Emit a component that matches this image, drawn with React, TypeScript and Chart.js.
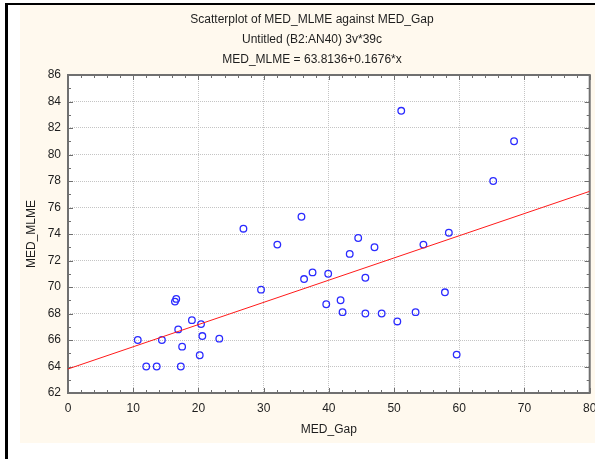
import { useEffect, useRef } from "react";
import { Chart, registerables } from "chart.js";

Chart.register(...registerables);

const TITLE_LINES = [
  "Scatterplot of MED_MLME against MED_Gap",
  "Untitled (B2:AN40) 3v*39c",
  "MED_MLME = 63.8136+0.1676*x",
];
const X_LABEL = "MED_Gap";
const Y_LABEL = "MED_MLME";

const MED_GAP = [
  26.9, 32.1, 36.2, 37.5, 39.9, 39.6, 29.6, 16.6, 16.4, 19.0,
  16.9, 20.4, 10.7, 14.4, 17.5, 20.6, 23.2, 20.2, 12.0, 13.6,
  17.3, 44.5, 47.0, 43.2, 54.5, 58.4, 45.6, 41.8, 42.1, 45.6,
  48.1, 50.5, 53.3, 57.8, 59.6, 51.1, 68.4, 65.2, 35.8,
];
const MED_MLME = [
  74.4, 73.2, 70.6, 71.1, 71.0, 68.7, 69.8, 69.1, 68.9, 67.5,
  66.8, 67.2, 66.0, 66.0, 65.5, 66.3, 66.1, 64.85, 64.0, 64.0,
  64.0, 73.7, 73.0, 72.5, 73.2, 74.1, 70.7, 69.0, 68.1, 68.0,
  68.0, 67.4, 68.1, 69.6, 64.9, 83.3, 81.0, 78.0, 75.3,
];

const INTERCEPT = 63.8136;
const SLOPE = 0.1676;

const X_MIN = 0;
const X_MAX = 80;
const X_STEP = 10;
const X_MINOR = 2;
const Y_MIN = 62;
const Y_MAX = 86;
const Y_STEP = 2;
const Y_MINOR = 1;

const FONT = "'Liberation Sans', Arial, sans-serif";
const TEXT = "#1e1e1e";

const decor = {
  id: "decor",
  beforeDraw(chart: any) {
    const { ctx, chartArea: a } = chart;
    ctx.save();
    ctx.fillStyle = "#ffffff";
    ctx.fillRect(a.left, a.top, a.right - a.left, a.bottom - a.top);
    ctx.restore();
  },
  beforeDatasetsDraw(chart: any) {
    const { ctx, chartArea: a } = chart;
    const xs = chart.scales.x;
    const ys = chart.scales.y;
    ctx.save();
    ctx.strokeStyle = "#6e6e6e";
    ctx.lineWidth = 1;
    ctx.beginPath();
    for (let v = X_MIN; v <= X_MAX + 1e-9; v += X_MINOR) {
      const px = Math.round(xs.getPixelForValue(v)) + 0.5;
      const len = Math.abs(v % X_STEP) < 1e-9 ? 5 : 3;
      ctx.moveTo(px, a.bottom);
      ctx.lineTo(px, a.bottom - len);
      ctx.moveTo(px, a.top);
      ctx.lineTo(px, a.top + len);
    }
    for (let v = Y_MIN; v <= Y_MAX + 1e-9; v += Y_MINOR) {
      const py = Math.round(ys.getPixelForValue(v)) + 0.5;
      const len = Math.abs((v - Y_MIN) % Y_STEP) < 1e-9 ? 5 : 3;
      ctx.moveTo(a.left, py);
      ctx.lineTo(a.left + len, py);
      ctx.moveTo(a.right, py);
      ctx.lineTo(a.right - len, py);
    }
    ctx.stroke();
    ctx.lineWidth = 2;
    ctx.strokeStyle = "#707070";
    ctx.strokeRect(a.left, a.top, a.right - a.left, a.bottom - a.top);
    ctx.restore();
  },
  afterDraw(chart: any) {
    const { ctx, chartArea: a } = chart;
    ctx.save();
    ctx.fillStyle = TEXT;
    ctx.font = `12px ${FONT}`;
    ctx.textAlign = "center";
    ctx.textBaseline = "middle";
    const ys = [20, 40, 60];
    TITLE_LINES.forEach((t, i) => ctx.fillText(t, 312, ys[i]));
    ctx.fillText(X_LABEL, (a.left + a.right) / 2, 430);
    ctx.translate(32, (a.top + a.bottom) / 2);
    ctx.rotate(-Math.PI / 2);
    ctx.fillText(Y_LABEL, 0, 0);
    ctx.restore();
  },
};

export default function App() {
  const ref = useRef<HTMLCanvasElement | null>(null);

  useEffect(() => {
    if (!ref.current) return;
    const points = MED_GAP.map((x, i) => ({ x, y: MED_MLME[i] }));
    const fit = [
      { x: X_MIN, y: INTERCEPT + SLOPE * X_MIN },
      { x: X_MAX, y: INTERCEPT + SLOPE * X_MAX },
    ];
    const chart = new Chart(ref.current, {
      type: "scatter",
      data: {
        datasets: [
          {
            type: "line",
            data: fit,
            borderColor: "#ff1a1a",
            borderWidth: 1,
            pointRadius: 0,
            fill: false,
          } as any,
          {
            data: points,
            pointStyle: "circle",
            pointRadius: 3.3,
            borderColor: "#2b2bff",
            backgroundColor: "rgba(0,0,0,0)",
            pointBorderWidth: 1.3,
            borderWidth: 1.3,
          } as any,
        ],
      },
      options: {
        animation: false,
        responsive: false,
        devicePixelRatio: 1,
        layout: { padding: { top: 75, right: 3, left: 0, bottom: 0 } },
        plugins: {
          legend: { display: false },
          tooltip: { enabled: false },
          title: { display: false },
        },
        scales: {
          x: {
            type: "linear",
            min: X_MIN,
            max: X_MAX,
            ticks: {
              stepSize: X_STEP,
              padding: 8,
              color: TEXT,
              font: { size: 12, family: FONT },
              maxRotation: 0,
            },
            grid: { color: "#c4c4c4", lineWidth: 1, drawTicks: false },
            border: { display: false, dash: [1, 1] },
            afterFit: (s: any) => {
              s.height = 66;
              s.paddingLeft = 0;
              s.paddingRight = 0;
              s.paddingTop = 0;
              s.paddingBottom = 0;
            },
          } as any,
          y: {
            type: "linear",
            min: Y_MIN,
            max: Y_MAX,
            ticks: {
              stepSize: Y_STEP,
              padding: 7,
              color: TEXT,
              font: { size: 12, family: FONT },
            },
            grid: { color: "#c4c4c4", lineWidth: 1, drawTicks: false },
            border: { display: false, dash: [1, 1] },
            afterFit: (s: any) => {
              s.width = 68;
              s.paddingLeft = 0;
              s.paddingRight = 0;
              s.paddingTop = 0;
              s.paddingBottom = 0;
            },
          } as any,
        },
      },
      plugins: [decor],
    });
    return () => chart.destroy();
  }, []);

  return (
    <div
      style={{
        position: "absolute",
        left: 0,
        top: 0,
        width: 595,
        height: 459,
        background: "#ffffff",
        overflow: "hidden",
      }}
    >
      <div style={{ position: "absolute", left: 5, top: 3, width: 3, height: 456, background: "#000" }} />
      <div style={{ position: "absolute", left: 5, top: 3, width: 590, height: 2, background: "#000" }} />
      <div style={{ position: "absolute", left: 20, top: 5, width: 575, height: 438, background: "#fff9ee" }} />
      <canvas
        ref={ref}
        width={595}
        height={459}
        style={{ position: "absolute", left: 0, top: 0, width: 595, height: 459 }}
      />
    </div>
  );
}
